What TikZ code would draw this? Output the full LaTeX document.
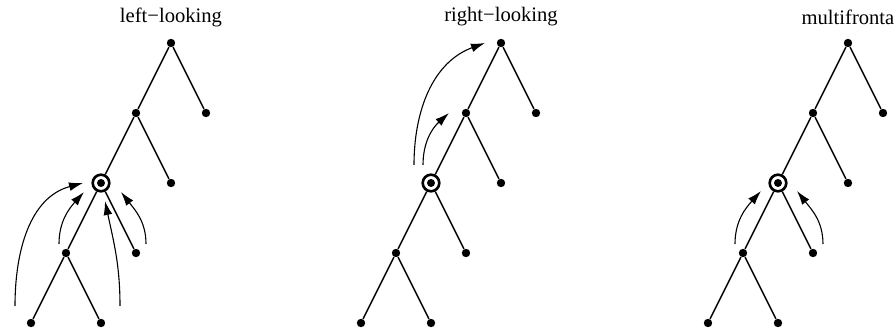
\documentclass[tikz,border=0pt]{standalone}
\usepackage{fontspec}
\setmainfont{Liberation Serif}
\usepackage{tikz}
\usetikzlibrary{arrows.meta, positioning, calc}
\tikzset{
  dot/.style   = {circle, fill=black, inner sep=0pt, minimum size=4.2pt},
  front/.style = {circle, draw=black, line width=1.3pt, inner sep=0pt,
                  minimum size=8.3pt,
                  path picture={\fill (path picture bounding box.center) circle (2pt);}},
  edge/.style  = {line width=0.7pt},
  pass/.style  = {-{Latex[length=7pt, width=4.4pt]}, line width=0.55pt},
  title/.style = {font=\fontsize{10.3pt}{12pt}\selectfont}
}

\begin{document}
\begin{tikzpicture}[x=0.5pt, y=0.5pt, node distance=35pt and 17.5pt, on grid]
  \useasboundingbox (0,0) rectangle (896,-331);

  % three copies of the same elimination tree
  \foreach \t/\x in {L/171, R/501, M/848} {
    \node[dot] (\t r) at (\x,-43) {};
    \node[dot, below left=of \t r]   (\t1) {};
    \node[dot, below right=of \t r]  (\t2) {};
    \node[front, below left=of \t1]  (\t3) {};
    \node[dot, below right=of \t1]   (\t4) {};
    \node[dot, below left=of \t3]    (\t5) {};
    \node[dot, below right=of \t3]   (\t6) {};
    \node[dot, below left=of \t5]    (\t7) {};
    \node[dot, below right=of \t5]   (\t8) {};
    \draw[edge] (\t r) -- (\t1); \draw[edge] (\t r) -- (\t2);
    \draw[edge] (\t1) -- (\t3);  \draw[edge] (\t1) -- (\t4);
    \draw[edge] (\t3) -- (\t5);  \draw[edge] (\t3) -- (\t6);
    \draw[edge] (\t5) -- (\t7);  \draw[edge] (\t5) -- (\t8);
  }

  \node[title, above=13pt of Lr] (tl) {left−looking};
  \node[title, above=13pt of Rr] (tr) {right−looking};
  \node[title, above=13pt of Mr] (tm) {multifronta};

  % left-looking: updates pulled in from the subtree
  \draw[pass] ($(L7)+(-16,17)$) to[out=90, in=195] ($(L3)+(-18,0)$);
  \draw[pass] ($(L5)+(-7,9)$)   to[out=90, in=228] ($(L3)+(-17,-9)$);
  \draw[pass] ($(L8)+(19,17)$)  to[out=90, in=282] ($(L3)+(4,-18)$);
  \draw[pass] ($(L6)+(10,9)$)   to[out=90, in=308] ($(L3)+(20,-9)$);

  % right-looking: updates pushed to the ancestors
  \draw[pass] ($(R3)+(-17,18)$) to[out=90, in=200] ($(Rr)+(-16,0)$);
  \draw[pass] ($(R3)+(-8,18)$)  to[out=90, in=222] ($(R1)+(-17,0)$);

  % multifrontal: children only
  \draw[pass] ($(M5)+(-8,9)$)   to[out=90, in=228] ($(M3)+(-17,-8)$);
  \draw[pass] ($(M6)+(10,9)$)   to[out=90, in=308] ($(M3)+(19,-8)$);
\end{tikzpicture}
\end{document}
